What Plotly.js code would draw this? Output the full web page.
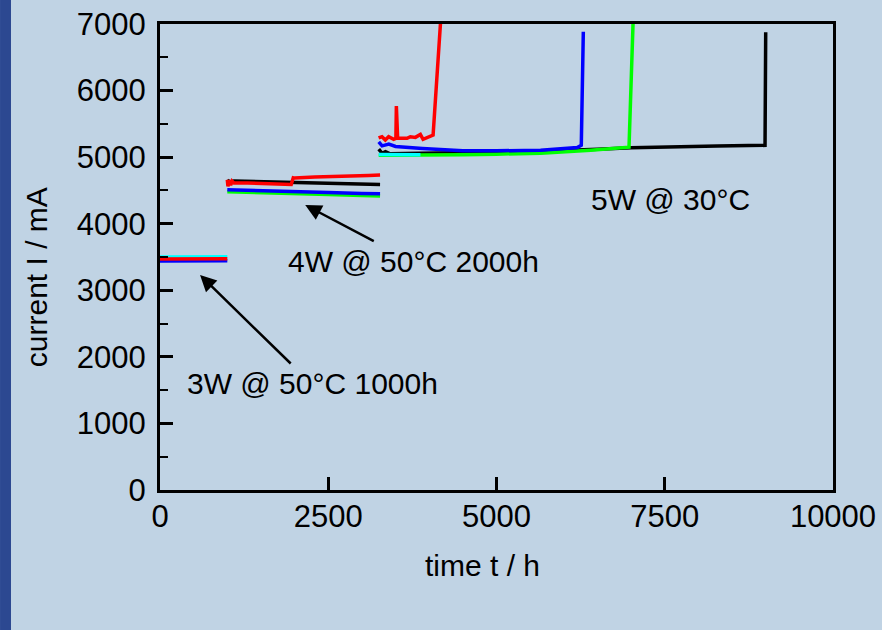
<!DOCTYPE html>
<html>
<head>
<meta charset="utf-8">
<script src="https://cdn.plot.ly/plotly-3.0.1.min.js"></script>
<style>html,body{margin:0;padding:0;background:#c0d3e4;}#chart{width:882px;height:630px;}</style>
</head>
<body>
<div id="chart"></div>
<script>
// ---- data (time in h, current in mA) ----
const blackX = [1000, 1050, 1100, 1500, 2000, 2500, 3000, 3270, null,
  3250, 3300, 3350, 3420, 3870, 4500, 5500, 6500, 7000, 8280, 8990, 9000];
const blackY = [4650, 4630, 4640, 4630, 4620, 4605, 4595, 4590, null,
  5120, 5057, 5082, 5050, 5057, 5065, 5080, 5120, 5142, 5167, 5177, 6875];

const greenX = [1000, 1500, 2000, 2500, 3000, 3270, null,
  3250, 3870, 4500, 5000, 5655, 6400, 6969, 7035];
const greenY = [4480, 4470, 4455, 4440, 4425, 4415, null,
  5030, 5030, 5035, 5045, 5060, 5105, 5150, 7200];

const cyanX = [0, 500, 1000, null, 3250, 3870];
const cyanY = [3500, 3500, 3505, null, 5040, 5035];

const blueX = [0, 500, 1000, null,
  1000, 1500, 2000, 2500, 3000, 3270, null,
  3250, 3300, 3400, 3500, 3900, 4500, 5000, 5655, 6200, 6260, 6290];
const blueY = [3440, 3438, 3445, null,
  4510, 4500, 4485, 4470, 4455, 4450, null,
  5230, 5170, 5195, 5160, 5130, 5095, 5095, 5105, 5145, 5180, 6885];

const redX = [0, 500, 1000, null,
  1000, 1010, 1030, 1050, 1070, 1100, 1300, 1500, 1700, 1950, 1980, 2000, 2300, 2600, 2900, 3100, 3270, null,
  3248, 3299, 3348, 3397, 3472, 3505, 3512, 3531, 3671, 3720, 3795, 3869, 3909, 3969, 4058, 4180];
const redY = [3470, 3468, 3472, null,
  4660, 4560, 4650, 4580, 4640, 4610, 4610, 4600, 4600, 4590, 4690, 4685, 4700, 4705, 4715, 4725, 4730, null,
  5288, 5307, 5257, 5307, 5267, 5282, 5768, 5282, 5282, 5307, 5297, 5342, 5267, 5297, 5332, 7200];

const xTicks = [0, 2500, 5000, 7500, 10000];
const yTicks = [0, 1000, 2000, 3000, 4000, 5000, 6000, 7000];

const labels = [
  {text: '3W @ 50°C 1000h', x: 2269, y: 1607},
  {text: '4W @ 50°C 2000h', x: 3765, y: 3425},
  {text: '5W @ 30°C', x: 7589, y: 4371}
];
const arrows = [
  {x: 595, y: 3230, ax: 1964, ay: 1878},
  {x: 2158, y: 4281, ax: 3199, ay: 3725}
];

const font = 'Arial, "Liberation Sans", sans-serif';
const bg = '#c0d3e4';

function line(x, y, color) {
  return {x: x, y: y, type: 'scatter', mode: 'lines', connectgaps: false,
    line: {color: color, width: 3.5}, hoverinfo: 'skip', showlegend: false};
}
const traces = [
  line(blackX, blackY, '#000000'),
  line(greenX, greenY, '#00ff00'),
  line(cyanX, cyanY, '#00ffff'),
  line(blueX, blueY, '#0000ff'),
  line(redX, redY, '#ff0000')
];

const annotations = [];
labels.forEach(l => annotations.push({x: l.x, y: l.y, xref: 'x', yref: 'y', text: l.text,
  showarrow: false, font: {family: font, size: 30, color: '#000'}, xanchor: 'center', yanchor: 'middle'}));
arrows.forEach(a => annotations.push({x: a.x, y: a.y, ax: a.ax, ay: a.ay, xref: 'x', yref: 'y',
  axref: 'x', ayref: 'y', text: '', showarrow: true, arrowhead: 2, arrowsize: 1.3, arrowwidth: 2.5,
  arrowcolor: '#000', standoff: 0, startstandoff: 0}));
annotations.push({xref: 'paper', yref: 'paper', x: 0.4785, y: -0.161, text: 'time t / h', showarrow: false,
  font: {family: font, size: 30, color: '#000'}, xanchor: 'center', yanchor: 'middle'});
annotations.push({xref: 'paper', yref: 'paper', x: -0.184, y: 0.457, text: 'current I / mA', showarrow: false,
  textangle: -90, font: {family: font, size: 30, color: '#000'}, xanchor: 'center', yanchor: 'middle'});

const layout = {
  width: 882, height: 630,
  paper_bgcolor: bg, plot_bgcolor: bg,
  margin: {l: 160, r: 49, t: 24, b: 140, pad: 0},
  font: {family: font, size: 30, color: '#000'},
  xaxis: {range: [0, 10000], tickvals: xTicks, ticktext: xTicks.map(String),
    ticks: 'inside', ticklen: 13, tickwidth: 3, tickcolor: '#000',
    showline: true, linewidth: 3, linecolor: '#000', mirror: true,
    showgrid: false, zeroline: false, ticklabelstandoff: -3,
    tickfont: {family: font, size: 31, color: '#000'}},
  yaxis: {range: [0, 7000], tickvals: yTicks, ticktext: yTicks.map(String),
    ticks: 'inside', ticklen: 13, tickwidth: 3, tickcolor: '#000',
    minor: {dtick: 500, tick0: 0, ticks: 'inside', ticklen: 8, tickwidth: 2, tickcolor: '#000'},
    showline: true, linewidth: 3, linecolor: '#000', mirror: true,
    showgrid: false, zeroline: false, ticklabelstandoff: 5,
    tickfont: {family: font, size: 31, color: '#000'}},
  shapes: [{type: 'rect', xref: 'paper', yref: 'paper', x0: -0.2377, x1: -0.2214, y0: -0.3004, y1: 1.0515,
    fillcolor: '#2c4891', line: {width: 0}, layer: 'below'}],
  annotations: annotations
};

Plotly.newPlot('chart', traces, layout, {staticPlot: true, displayModeBar: false});
</script>
</body>
</html>
